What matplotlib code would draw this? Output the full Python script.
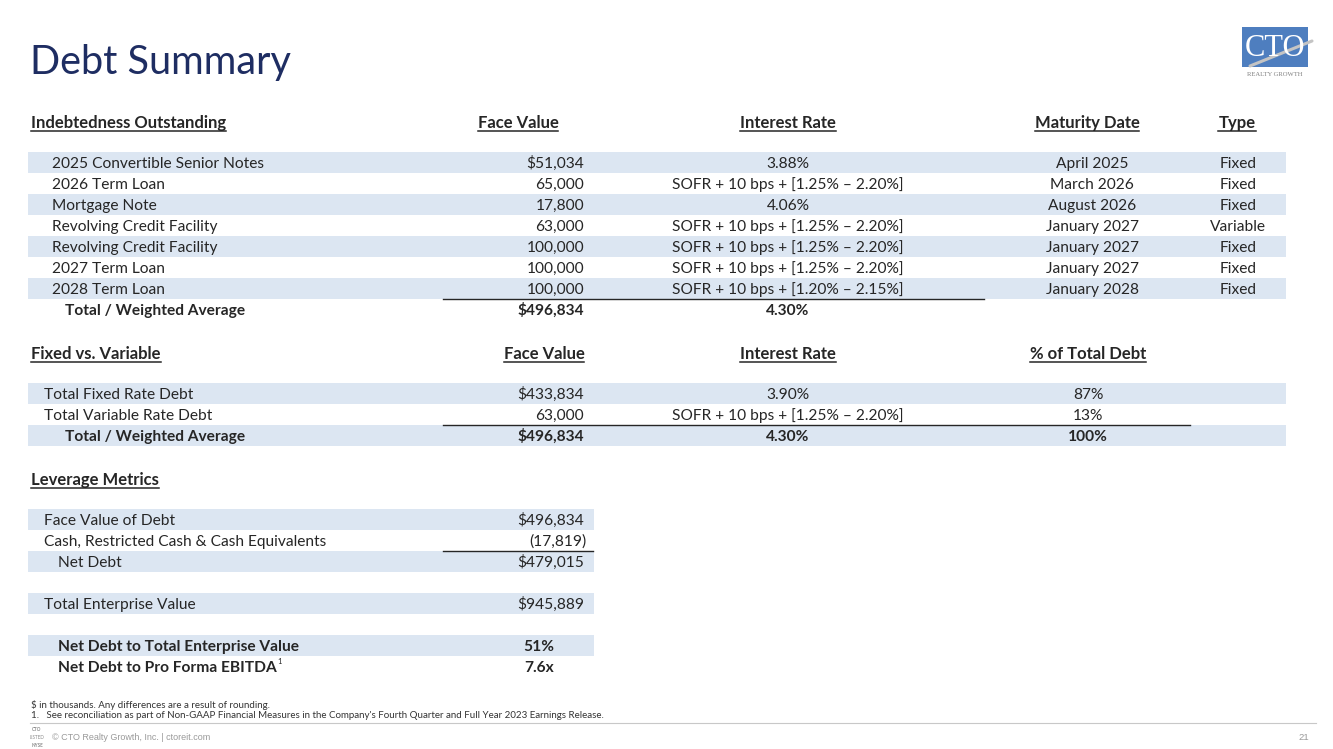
import matplotlib
matplotlib.use("Agg")
import matplotlib.pyplot as plt
from matplotlib.patches import Rectangle

plt.rcParams["text.parse_math"] = False
plt.rcParams["font.family"] = ["Lato", "DejaVu Sans"]

# ===== table data =====
debt_names = ["2025 Convertible Senior Notes", "2026 Term Loan", "Mortgage Note",
              "Revolving Credit Facility", "Revolving Credit Facility",
              "2027 Term Loan", "2028 Term Loan"]
debt_face = [51034, 65000, 17800, 63000, 100000, 100000, 100000]
debt_rate = ["3.88%", "SOFR + 10 bps + [1.25% – 2.20%]", "4.06%",
             "SOFR + 10 bps + [1.25% – 2.20%]", "SOFR + 10 bps + [1.25% – 2.20%]",
             "SOFR + 10 bps + [1.25% – 2.20%]", "SOFR + 10 bps + [1.20% – 2.15%]"]
debt_maturity = ["April 2025", "March 2026", "August 2026", "January 2027",
                 "January 2027", "January 2027", "January 2028"]
debt_type = ["Fixed", "Fixed", "Fixed", "Variable", "Fixed", "Fixed", "Fixed"]
debt_total = ("Total / Weighted Average", "$496,834", "4.30%")

fv_names = ["Total Fixed Rate Debt", "Total Variable Rate Debt"]
fv_face = [433834, 63000]
fv_rate = ["3.90%", "SOFR + 10 bps + [1.25% – 2.20%]"]
fv_pct = ["87%", "13%"]
fv_total = ("Total / Weighted Average", "$496,834", "4.30%", "100%")

lev_names = ["Face Value of Debt", "Cash, Restricted Cash & Cash Equivalents", "Net Debt",
             "", "Total Enterprise Value", "",
             "Net Debt to Total Enterprise Value", "Net Debt to Pro Forma EBITDA"]
lev_values = ["$496,834", "(17,819)", "$479,015", "", "$945,889", "", "51%", "7.6x"]
lev_shaded = [True, False, True, False, True, False, True, False]
lev_bold = [False, False, False, False, False, False, True, True]
lev_indent = [44, 44, 58, 44, 44, 44, 58, 58]

footnotes = ["$ in thousands. Any differences are a result of rounding.",
             "1.   See reconciliation as part of Non-GAAP Financial Measures in the Company's "
             "Fourth Quarter and Full Year 2023 Earnings Release."]
# ======================

W, H = 1333, 749
TXT = "#262626"
SHADE = "#DCE6F2"
NAVY = "#1E2D62"
FS = 11.2
HFS = 12

fig = plt.figure(figsize=(W / 100, H / 100), dpi=100)
ax = fig.add_axes([0, 0, 1, 1])
ax.set_xlim(0, W)
ax.set_ylim(H, 0)
ax.axis("off")
renderer = fig.canvas.get_renderer()


def txt(x, y, s, ha="left", bold=False, size=FS, color=TXT, **kw):
    # y is the visual middle of the capitals; place on the baseline below it
    base = y + 0.36 * size * 100 / 72
    return ax.text(x, base, s, ha=ha, va="baseline", fontsize=size, color=color,
                   fontweight="bold" if bold else "normal", **kw)


def header(x, y, s, ha="center"):
    t = txt(x, y, s, ha=ha, bold=True, size=HFS)
    bb = t.get_window_extent(renderer).transformed(ax.transData.inverted())
    ax.plot([bb.x0, bb.x1], [y + 8.5, y + 8.5], color=TXT, lw=1.1)
    return t


def band(y, x0, x1):
    ax.add_patch(Rectangle((x0, y - 10.5), x1 - x0, 21, facecolor=SHADE,
                           edgecolor="none", zorder=0))


# title
ax.text(30, 74, "Debt Summary", fontsize=28.5, color=NAVY, fontweight="normal",
        ha="left", va="baseline")

# logo
ax.add_patch(Rectangle((1242, 27), 66, 40, facecolor="#4E7EBF", edgecolor="none"))
ax.plot([1250, 1312], [66, 41], color="#C4C4C4", lw=2.2, solid_capstyle="round", zorder=3)
ax.text(1275, 49, "CTO", fontsize=22, color="white", ha="center", va="center",
        family="Liberation Serif", zorder=4)
ax.text(1275, 74, "REALTY GROWTH", fontsize=4.8, color="#7F7F7F", ha="center",
        va="center", family="Liberation Serif")

# ---- section 1 ----
header(31, 122, "Indebtedness Outstanding", ha="left")
header(518, 122, "Face Value")
header(788, 122, "Interest Rate")
header(1087, 122, "Maturity Date")
header(1237, 122, "Type")

y0, step = 162, 21
for i, name in enumerate(debt_names):
    y = y0 + i * step
    if i % 2 == 0:
        band(y, 28, 1286)
    face = f"${debt_face[i]:,}" if i == 0 else f"{debt_face[i]:,}"
    txt(52, y, name)
    txt(584, y, face, ha="right")
    txt(788, y, debt_rate[i], ha="center")
    txt(1092, y, debt_maturity[i], ha="center")
    txt(1238, y, debt_type[i], ha="center")
yt = y0 + len(debt_names) * step
ax.plot([443, 984], [yt - 10.5, yt - 10.5], color=TXT, lw=1.0)
txt(65, yt, debt_total[0], bold=True)
txt(584, yt, debt_total[1], ha="right", bold=True)
txt(788, yt, debt_total[2], ha="center", bold=True)

# ---- section 2 ----
header(31, 353, "Fixed vs. Variable", ha="left")
header(544, 353, "Face Value")
header(788, 353, "Interest Rate")
header(1088, 353, "% of Total Debt")

y0 = 393
for i, name in enumerate(fv_names):
    y = y0 + i * step
    if i % 2 == 0:
        band(y, 28, 1286)
    face = f"${fv_face[i]:,}" if i == 0 else f"{fv_face[i]:,}"
    txt(44, y, name)
    txt(584, y, face, ha="right")
    txt(788, y, fv_rate[i], ha="center")
    txt(1088, y, fv_pct[i], ha="center")
yt = y0 + len(fv_names) * step
band(yt, 28, 1286)
ax.plot([443, 1190], [yt - 10.5, yt - 10.5], color=TXT, lw=1.0)
txt(65, yt, fv_total[0], bold=True)
txt(584, yt, fv_total[1], ha="right", bold=True)
txt(788, yt, fv_total[2], ha="center", bold=True)
txt(1088, yt, fv_total[3], ha="center", bold=True)

# ---- section 3 ----
header(31, 479, "Leverage Metrics", ha="left")
y0 = 519
for i, name in enumerate(lev_names):
    y = y0 + i * step
    if lev_shaded[i]:
        band(y, 28, 594)
    if not name:
        continue
    t = txt(lev_indent[i], y, name, bold=lev_bold[i])
    if lev_bold[i]:
        txt(554, y, lev_values[i], ha="right", bold=True)
    elif lev_values[i].startswith("("):
        txt(587, y, lev_values[i], ha="right")
    else:
        txt(584, y, lev_values[i], ha="right")
    if "EBITDA" in name:
        bb = t.get_window_extent(renderer).transformed(ax.transData.inverted())
        txt(bb.x1 + 0.5, y - 5, "1", size=5.5)
ax.plot([443, 593], [y0 + 1.5 * step, y0 + 1.5 * step], color=TXT, lw=1.0)

# footnotes & footer
for i, note in enumerate(footnotes):
    txt(31, 704 + i * 11, note, size=7, color="#333333")
ax.plot([30, 1316], [723, 723], color="#C8C8C8", lw=0.8)
for i, s in enumerate(["CTO", "LISTED", "NYSE"]):
    txt(37, 729 + i * 8, s, ha="center", size=3.3, color="#8C8C8C", bold=(i != 1))
txt(52, 737, "© CTO Realty Growth, Inc. | ctoreit.com", size=6.5, color="#9A9A9A",
    family="Liberation Sans")
txt(1309, 737, "21", ha="right", size=6.8, color="#9A9A9A", family="Liberation Sans")

fig.savefig("out.png", dpi=100, facecolor="white")
plt.close(fig)
